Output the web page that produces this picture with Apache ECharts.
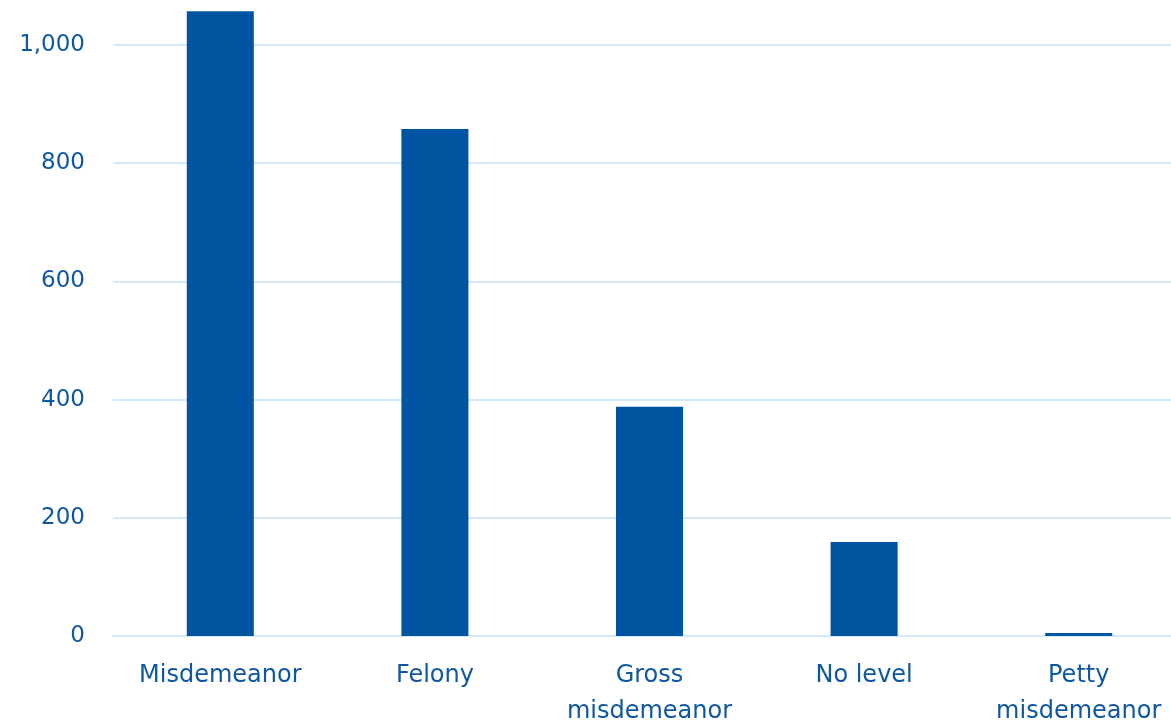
<!DOCTYPE html>
<html><head><meta charset="utf-8">
<script src="https://cdn.jsdelivr.net/npm/echarts@6/dist/echarts.min.js"></script>
<style>html,body{margin:0;padding:0;background:#fff}#c{width:1171px;height:723px}</style>
</head><body><div id="c"></div>
<script>
const categories = ["Misdemeanor", "Felony", "Gross\nmisdemeanor", "No level", "Petty\nmisdemeanor"];
const values = [1057, 858, 388, 159, 5];
const yTicks = [0, 200, 400, 600, 800, 1000];

const chart = echarts.init(document.getElementById('c'), null, {renderer: 'canvas'});
const textColor = '#0F57A0';
chart.setOption({
  animation: false,
  grid: {left: 113, right: -15, top: 45, bottom: 87, containLabel: false, outerBoundsMode: 'none'},
  xAxis: {
    type: 'category', data: categories,
    axisLine: {show: true, lineStyle: {color: '#D3E8F8', width: 2}},
    axisTick: {show: false},
    axisLabel: {color: textColor, fontFamily: 'DejaVu Sans', fontSize: 24, margin: 22, lineHeight: 36, interval: 0}
  },
  yAxis: {
    type: 'value', min: yTicks[0], max: yTicks[yTicks.length - 1], interval: 200,
    axisLine: {show: false}, axisTick: {show: false},
    splitLine: {lineStyle: {color: '#D3E8F8', width: 2}},
    axisLabel: {color: textColor, fontFamily: 'DejaVu Sans', fontSize: 23, margin: 28,
      formatter: v => v.toLocaleString('en-US')}
  },
  series: [{
    type: 'bar', data: values, barWidth: 67, clip: false,
    itemStyle: {color: '#0055A2'}
  }]
});
</script></body></html>
